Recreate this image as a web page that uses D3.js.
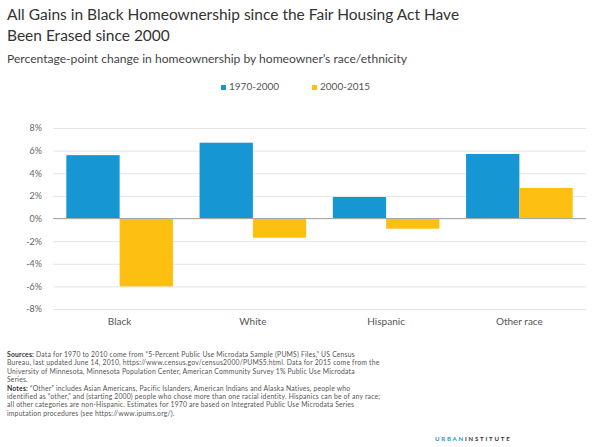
<!DOCTYPE html>
<html>
<head>
<meta charset="utf-8">
<script src="https://cdn.jsdelivr.net/npm/d3@7"></script>
<style>
  body { margin: 0; background: #fff; }
  svg { display: block; font-family: Lato, "Open Sans", sans-serif; }
</style>
</head>
<body>
<div id="chart"></div>
<script>
const categories = ["Black", "White", "Hispanic", "Other race"];
const seriesNames = ["1970-2000", "2000-2015"];
const values1970 = [5.6, 6.7, 1.9, 5.7];
const values2000 = [-6.0, -1.7, -0.9, 2.7];
const yTicks = [-8, -6, -4, -2, 0, 2, 4, 6, 8];

const titleLines = [
    "All Gains in Black Homeownership since the Fair Housing Act Have",
    "Been Erased since 2000"
];
const subtitle = "Percentage-point change in homeownership by homeowner\u2019s race/ethnicity";
const notes = [
    ["Sources:", " Data for 1970 to 2010 come from \u201c5-Percent Public Use Microdata Sample (PUMS) Files,\u201d US Census"],
    ["", "Bureau, last updated June 14, 2010, https://www.census.gov/census2000/PUMS5.html. Data for 2015 come from the"],
    ["", "University of Minnesota, Minnesota Population Center, American Community Survey 1% Public Use Microdata"],
    ["", "Series."],
    ["Notes:", " \u201cOther\u201d includes Asian Americans, Pacific Islanders, American Indians and Alaska Natives, people who"],
    ["", "identified as \u201cother,\u201d and (starting 2000) people who chose more than one racial identity. Hispanics can be of any race;"],
    ["", "all other categories are non-Hispanic. Estimates for 1970 are based on Integrated Public Use Microdata Series"],
    ["", "imputation procedures (see https://www.ipums.org/)."]
];

const data = categories.map((c, i) => ({ cat: c, vals: [values1970[i], values2000[i]] }));
const colors = ["#1696d2", "#fdbf11"];

const W = 600, H = 447;
const margin = { top: 128, right: 10, bottom: 138, left: 53 };

const svg = d3.select("#chart").append("svg")
    .attr("width", W)
    .attr("height", H);

// titles
svg.selectAll(".title").data(titleLines).enter().append("text")
    .attr("x", 7)
    .attr("y", (d, i) => 20 + i * 21)
    .attr("font-size", 15.5)
    .attr("fill", "#333")
    .text(d => d);

svg.append("text")
    .attr("x", 7).attr("y", 63)
    .attr("font-size", 12.1)
    .attr("fill", "#444")
    .text(subtitle);

// legend
const legend = svg.selectAll(".legend").data(seriesNames).enter().append("g")
    .attr("transform", (d, i) => `translate(${221 + i * 91},90)`);
legend.append("rect")
    .attr("y", -5).attr("width", 5).attr("height", 5)
    .attr("fill", (d, i) => colors[i]);
legend.append("text")
    .attr("x", 8).attr("y", 0)
    .attr("font-size", 10)
    .attr("fill", "#555")
    .text(d => d);

const x0 = d3.scaleBand()
    .domain(categories)
    .range([margin.left, W - margin.right - 4])
    .paddingInner(0.2)
    .paddingOuter(0.1);
const x1 = d3.scaleBand()
    .domain([0, 1])
    .range([0, x0.bandwidth()]);
const y = d3.scaleLinear()
    .domain([-8, 8])
    .range([309, 128]);

// gridlines + y labels
const yAxis = svg.append("g")
    .attr("transform", `translate(${margin.left},0)`)
    .call(d3.axisLeft(y).tickValues(yTicks)
        .tickSize(-(W - margin.right - 4 - margin.left))
        .tickFormat(d => d + "%"));
yAxis.select(".domain").remove();
yAxis.selectAll(".tick line").attr("stroke", "#e4e4e4");
yAxis.selectAll(".tick text")
    .attr("x", -11)
    .attr("font-family", "Lato, sans-serif")
    .attr("font-size", 9)
    .attr("fill", "#666");

// bars
const groups = svg.selectAll(".group").data(data).enter().append("g")
    .attr("transform", d => `translate(${x0(d.cat)},0)`);
groups.selectAll("rect").data(d => d.vals).enter().append("rect")
    .attr("x", (d, i) => x1(i))
    .attr("width", x1.bandwidth())
    .attr("y", d => y(Math.max(0, d)))
    .attr("height", d => Math.abs(y(d) - y(0)))
    .attr("fill", (d, i) => colors[i]);

// zero line
svg.append("line")
    .attr("x1", margin.left).attr("x2", W - margin.right - 4)
    .attr("y1", y(0)).attr("y2", y(0))
    .attr("stroke", "#a8a8a8");

// x labels
const xAxis = svg.append("g")
    .attr("transform", "translate(0,315)")
    .call(d3.axisBottom(x0).tickSize(0));
xAxis.select(".domain").remove();
xAxis.selectAll(".tick text")
    .attr("font-family", "Lato, sans-serif")
    .attr("font-size", 10)
    .attr("fill", "#555");

// notes
const noteText = svg.selectAll(".note").data(notes).enter().append("text")
    .attr("x", 7)
    .attr("y", (d, i) => 357 + i * 8.4)
    .attr("font-size", 6.8)
    .attr("letter-spacing", 0.2)
    .attr("fill", "#555");
noteText.append("tspan").attr("font-weight", "bold").attr("fill", "#333").text(d => d[0]);
noteText.append("tspan").text(d => d[1]);

// logo
const logo = svg.append("text")
    .attr("x", 435).attr("y", 441)
    .attr("font-size", 6)
    .attr("letter-spacing", 1.8)
    .attr("font-weight", "bold");
logo.append("tspan").attr("fill", "#1696d2").text("URBAN");
logo.append("tspan").attr("fill", "#333").text("INSTITUTE");
</script>
</body>
</html>
